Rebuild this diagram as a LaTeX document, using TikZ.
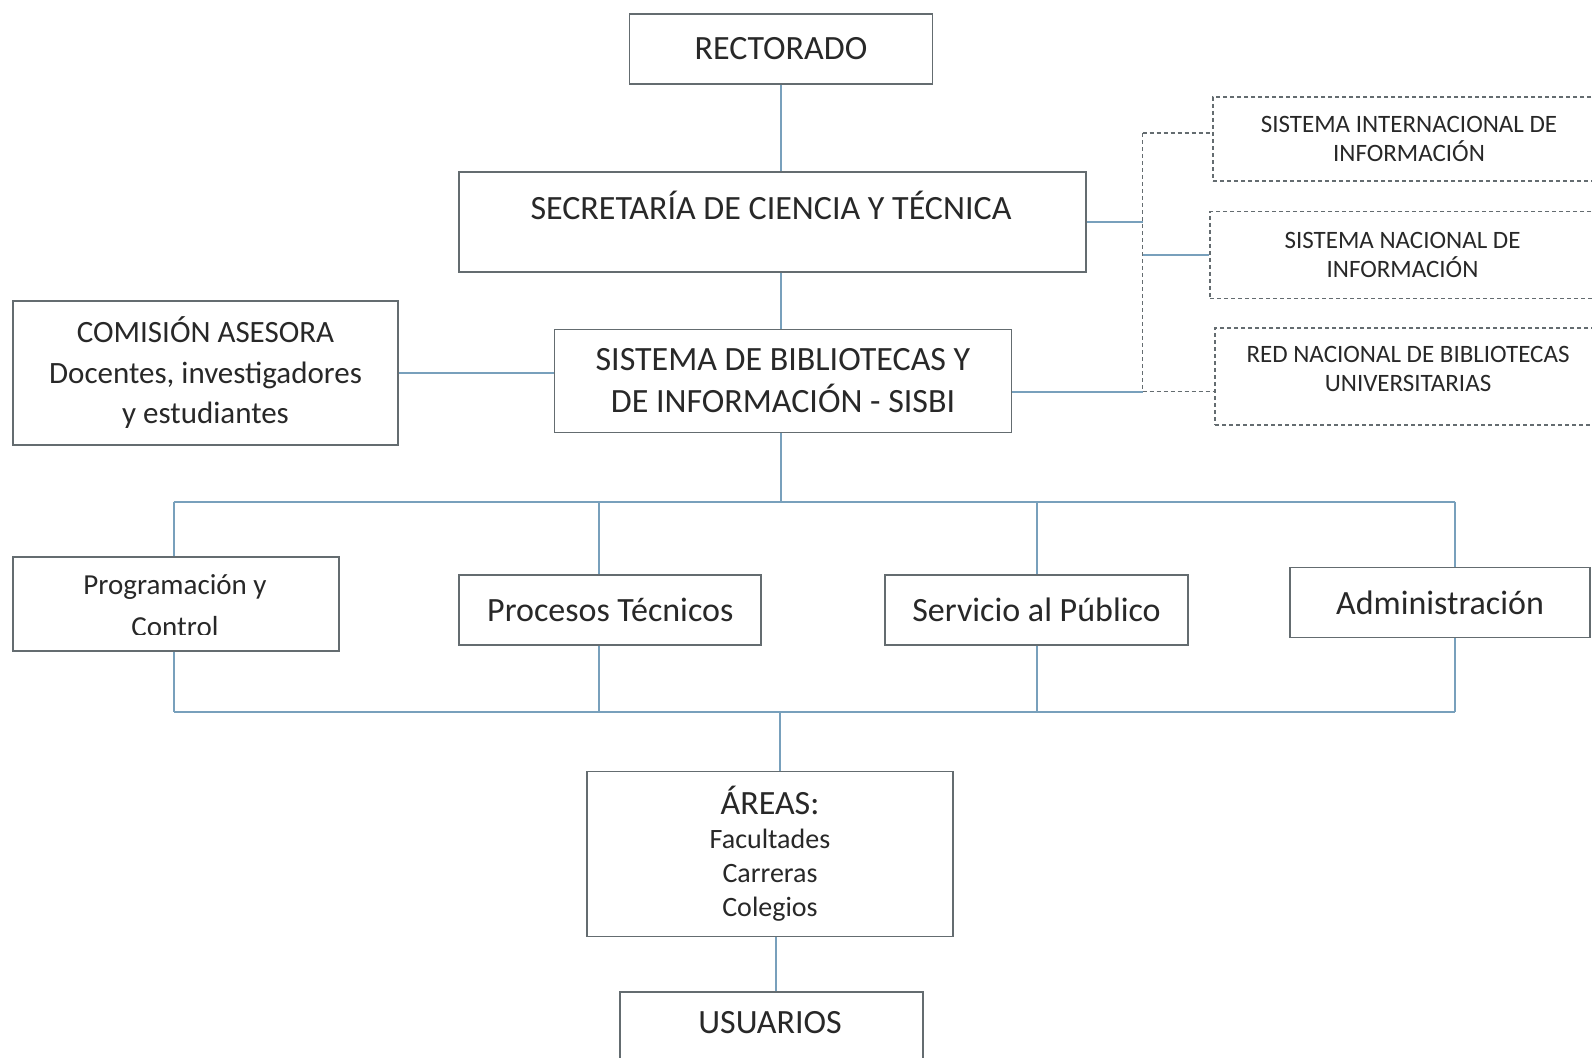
\documentclass[tikz,border=0pt]{standalone}
\usepackage{fontspec}
\setmainfont{Carlito}
\definecolor{boxgray}{RGB}{100,108,112}
\definecolor{linkblue}{RGB}{120,160,188}
\definecolor{txtgray}{RGB}{40,40,40}
\tikzset{
  box/.style={draw=boxgray, line width=1.8pt, rectangle, inner sep=0pt, align=center, text=txtgray},
  dbox/.style={box, dashed, line width=1.3pt, dash pattern=on 4pt off 3pt},
  conn/.style={draw=linkblue, line width=1.8pt},
  dconn/.style={draw=boxgray, line width=1.3pt, dash pattern=on 4pt off 3pt},
  big/.style={font=\fontsize{34}{42}\selectfont},
  mid/.style={font=\fontsize{31}{40.5}\selectfont},
  small/.style={font=\fontsize{28}{34}\selectfont},
  tiny/.style={font=\fontsize{25}{29}\selectfont}
}
\begin{document}
\begin{tikzpicture}[x=1pt,y=-1pt]
        \path[fill=white] (0,0) rectangle (1592,1057);
        \useasboundingbox (0,0) rectangle (1592,1057);
        % upper part
        \node[box,big,minimum width=303pt,minimum height=70pt] (rect) at (781,49) {RECTORADO};
        \node[box,minimum width=627pt,minimum height=100pt] (sct) at (772.5,221.7) {};
        \node[big,text=txtgray] (scttxt) at (771,205) {SECRETARÍA DE CIENCIA Y TÉCNICA};
        \node[box,big,minimum width=457pt,minimum height=103pt] (sisbi) at (783,381) {SISTEMA DE BIBLIOTECAS Y\\DE INFORMACIÓN - SISBI};
        \node[box,mid,minimum width=385pt,minimum height=144pt] (com) at (205.5,372.7) {COMISIÓN ASESORA\\Docentes, investigadores\\y estudiantes};
        % dashed boxes
        \node[dbox,tiny,minimum width=392pt,minimum height=84pt] (sin1) at (1409,139) {SISTEMA INTERNACIONAL DE\\INFORMACIÓN};
        \node[dbox,tiny,minimum width=385pt,minimum height=87pt] (sin2) at (1402.5,255.3) {SISTEMA NACIONAL DE\\INFORMACIÓN};
        \node[dbox,minimum width=390pt,minimum height=97pt] (red) at (1410,376.5) {};
        \node[tiny,align=center,text=txtgray] (redtxt) at (1408,369) {RED NACIONAL DE BIBLIOTECAS\\UNIVERSITARIAS};
        % areas row
        \node[box,minimum width=326pt,minimum height=94pt] (prog) at (176,604) {};
        \begin{scope}
            \clip (20,570) rectangle (330,634);
            \node[align=center,text=txtgray,font=\fontsize{29}{42}\selectfont] (progtxt) at (175,606) {Programación y\\Control};
        \end{scope}
        \node[box,big,minimum width=302pt,minimum height=70pt] (proc) at (610.25,609.7) {Procesos Técnicos};
        \node[box,big,minimum width=303pt,minimum height=70pt] (serv) at (1036.5,609.7) {Servicio al Público};
        \node[box,big,minimum width=300pt,minimum height=70pt] (adm) at (1440,602.5) {Administración};
        % lower part
        \node[box,small,minimum width=366pt,minimum height=165pt] (areas) at (770,854) {{\fontsize{34}{36}\selectfont ÁREAS:}\\Facultades\\Carreras\\Colegios};
        \node[box,big,minimum width=303pt,minimum height=70pt,anchor=north] (usu) at (771.5,990.7) {};
        \node[big,text=txtgray] (usutxt) at (770,1023) {USUARIOS};
        % buses
        \coordinate (t1) at (173.6,501.6);
        \coordinate (t2) at (599,501.6);
        \coordinate (t3) at (1036.6,501.6);
        \coordinate (t4) at (1455,501.6);
        \coordinate (u1) at (173.6,711.7);
        \coordinate (u2) at (599,711.7);
        \coordinate (u3) at (1036.6,711.7);
        \coordinate (u4) at (1455,711.7);
        \coordinate (u0) at (780,711.7);
        \coordinate (r1) at (1142.7,133);
        \coordinate (r3) at (1142.7,391.7);
        % connectors
        \path[conn] (rect.south) -- (rect.south |- sct.north);
        \path[conn] (rect.south |- sct.south) -- (rect.south |- sisbi.north);
        \path[conn] (com.east) -- (com.east -| sisbi.west);
        \path[conn] (rect.south |- sisbi.south) -- (rect.south |- t1);
        \path[conn] (t1) -- (t4);
        \path[conn] (t1) -- (t1 |- prog.north);
        \path[conn] (t2) -- (t2 |- proc.north);
        \path[conn] (t3) -- (t3 |- serv.north);
        \path[conn] (t4) -- (t4 |- adm.north);
        \path[conn] (u1 |- prog.south) -- (u1);
        \path[conn] (u2 |- proc.south) -- (u2);
        \path[conn] (u3 |- serv.south) -- (u3);
        \path[conn] (u4 |- adm.south) -- (u4);
        \path[conn] (u1) -- (u4);
        \path[conn] (u0) -- (u0 |- areas.north);
        \path[conn] ([xshift=6pt]areas.south) -- ([xshift=6pt]areas.south |- usu.north);
        \path[dconn] (r1) -- (r3);
        \path[dconn] (r1) -- (r1 -| sin1.west);
        \path[conn] (sct.east) -- (sct.east -| r1);
        \path[conn] (r1 |- sin2.west) -- (sin2.west);
        \path[conn] (sisbi.east |- r3) -- (r3);
        \path[dconn] (r3) -- (r3 -| red.west);
\end{tikzpicture}
\end{document}
